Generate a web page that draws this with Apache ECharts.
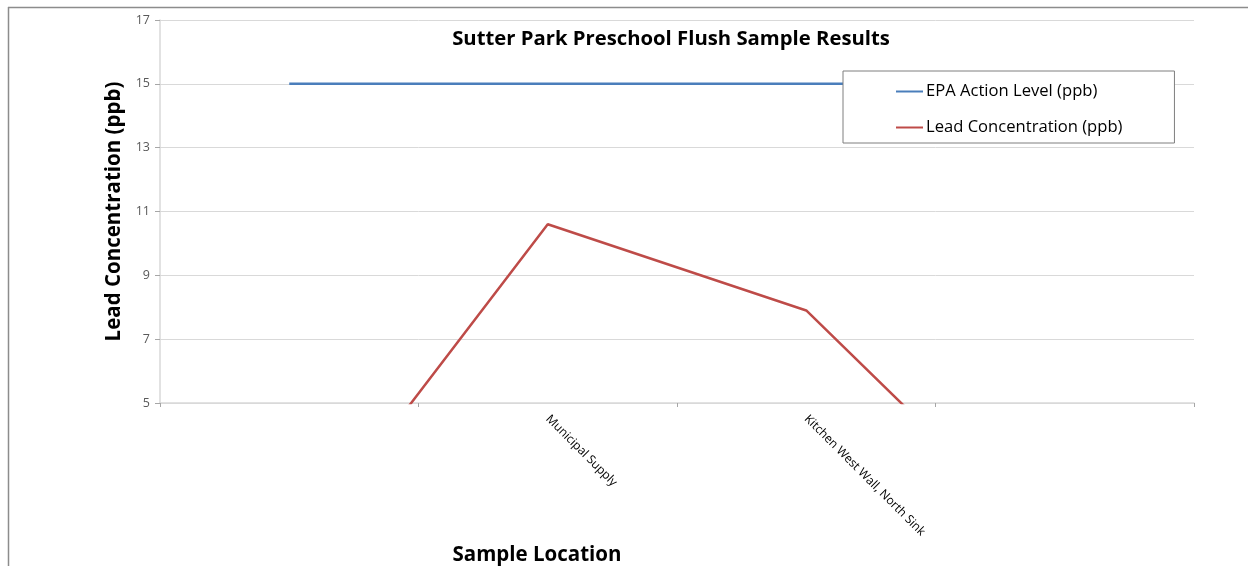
<!DOCTYPE html>
<html><head><meta charset="utf-8">
<script src="https://cdn.jsdelivr.net/npm/echarts@6/dist/echarts.min.js"></script>
<style>html,body{margin:0;padding:0;background:#fff}#c{width:1248px;height:566px}</style>
</head><body><div id="c"></div>
<script>
const categories = ["", "Municipal Supply", "Kitchen West Wall, North Sink", ""];
const epaActionLevel = [15, 15, 15, 15];
const leadConcentration = [0, 10.6, 7.9, 0];
const yTicks = [5, 7, 9, 11, 13, 15, 17];

const FONT = '"Open Sans", "Noto Sans", sans-serif';
const chart = echarts.init(document.getElementById('c'));
chart.setOption({
  animation: false,
  backgroundColor: '#fff',
  graphic: [
    { type: 'line', shape: { x1: 8, y1: 7.5, x2: 1248, y2: 7.5 }, style: { stroke: '#8c8c8c', lineWidth: 1.5 }, silent: true },
    { type: 'line', shape: { x1: 8.5, y1: 7, x2: 8.5, y2: 566 }, style: { stroke: '#8c8c8c', lineWidth: 1.5 }, silent: true }
  ],
  title: {
    text: 'Sutter Park Preschool Flush Sample Results',
    left: 666, top: 24, textAlign: 'center',
    textStyle: { fontFamily: FONT, fontWeight: 'bold', fontSize: 20.3, color: '#000' }
  },
  legend: {
    orient: 'vertical', left: 843, top: 71,
    padding: [12, 52, 7, 52], itemGap: 19,
    itemWidth: 27, itemHeight: 14,
    borderColor: '#7f7f7f', borderWidth: 1,
    backgroundColor: '#fff', z: 10,
    itemStyle: { opacity: 0 },
    textStyle: { fontFamily: FONT, fontSize: 16.6, color: '#000', padding: [0, 0, 0, -2] },
    data: ['EPA Action Level (ppb)', 'Lead Concentration (ppb)']
  },
  grid: { left: 160, right: 54, top: 20, bottom: 163, containLabel: false, outerBoundsMode: 'none' },
  xAxis: {
    type: 'category', data: categories, boundaryGap: true,
    name: 'Sample Location', nameLocation: 'middle', nameGap: 142,
    nameTextStyle: { fontFamily: FONT, fontWeight: 'bold', fontSize: 20.5, color: '#000', padding: [0, 280, 0, 0] },
    axisLine: { show: true, onZero: false, lineStyle: { color: '#d9d9d9', width: 1.5 } },
    axisTick: { show: true, alignWithLabel: false, length: 4, lineStyle: { color: '#a6a6a6' } },
    axisLabel: { interval: 0, rotate: -45, margin: 14, fontFamily: FONT, fontSize: 12, color: '#000' },
    splitLine: { show: false }
  },
  yAxis: {
    type: 'value', min: yTicks[0], max: yTicks[yTicks.length - 1], interval: 2,
    name: 'Lead Concentration (ppb)', nameLocation: 'middle', nameGap: 31, nameRotate: 90,
    nameTextStyle: { fontFamily: FONT, fontWeight: 'bold', fontSize: 20.5, color: '#000' },
    axisLine: { show: true, lineStyle: { color: '#d9d9d9', width: 1.5 } },
    axisTick: { show: true, length: 5, lineStyle: { color: '#a6a6a6' } },
    axisLabel: { margin: 10, fontFamily: FONT, fontSize: 12.5, color: '#595959' },
    splitLine: { show: true, lineStyle: { color: '#d9d9d9', width: 1 } }
  },
  series: [
    { name: 'EPA Action Level (ppb)', type: 'line', data: epaActionLevel, symbol: 'none',
      lineStyle: { color: '#4a7ebb', width: 2.5 }, itemStyle: { color: '#4a7ebb' }, clip: true, z: 2 },
    { name: 'Lead Concentration (ppb)', type: 'line', data: leadConcentration, symbol: 'none',
      lineStyle: { color: '#be4b48', width: 2.5 }, itemStyle: { color: '#be4b48' }, clip: true, z: 2 }
  ]
});
</script></body></html>
